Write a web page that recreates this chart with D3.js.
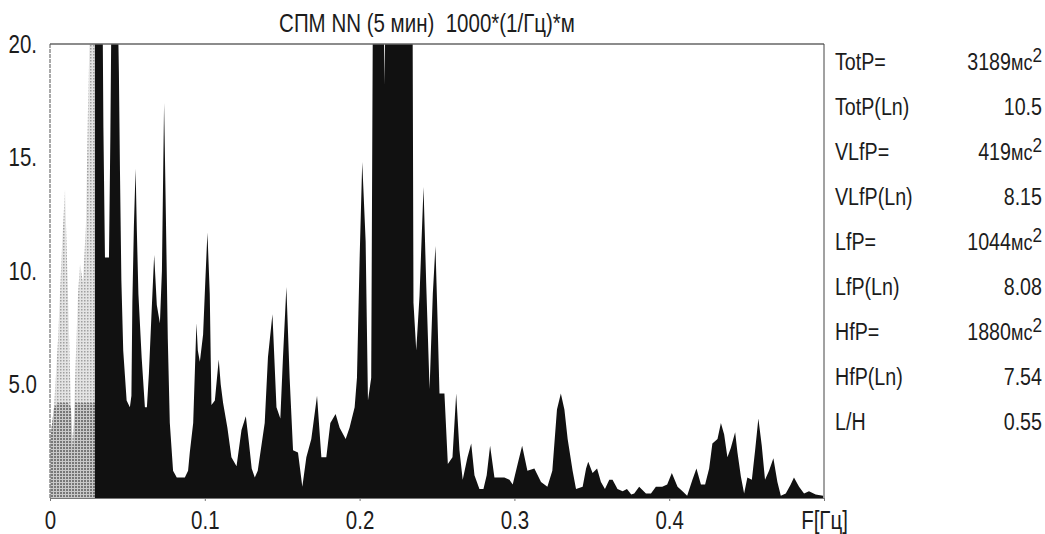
<!DOCTYPE html>
<html>
<head>
<meta charset="utf-8">
<script src="https://cdn.jsdelivr.net/npm/d3@7"></script>
<style>
body { margin: 0; background: #fff; }
text { font-family: "Liberation Sans", Arial, sans-serif; fill: #1c1c1c; }
</style>
</head>
<body>
<div id="chart"></div>
<script>
// спектр VLF (серая часть)
const vlfFreq = [0, 0.0026, 0.0052, 0.0077, 0.0097, 0.0116, 0.0135, 0.0148, 0.0161, 0.0181,
    0.0194, 0.0213, 0.0232, 0.0245, 0.0258, 0.029];
const vlfPower = [2.5, 4, 7, 11, 13.6, 9, 4, 2.1, 5, 9,
    10.3, 9.5, 12, 17, 21, 24];

// спектр LF + HF (чёрная часть)
const specFreq = [0.0290, 0.0335, 0.0345, 0.0355, 0.0381, 0.0390, 0.0400, 0.0432, 0.0445, 0.0452,
    0.0461, 0.0473, 0.0495, 0.0516, 0.0526, 0.0532, 0.0542, 0.0553, 0.0561, 0.0571,
    0.0592, 0.0613, 0.0626, 0.0639, 0.0655, 0.0673, 0.0690, 0.0710, 0.0723, 0.0737,
    0.0745, 0.0753, 0.0761, 0.0774, 0.0795, 0.0819, 0.0871, 0.0892, 0.0903, 0.0925,
    0.0946, 0.0955, 0.0968, 0.0989, 0.1003, 0.1017, 0.1032, 0.1043, 0.1065, 0.1090,
    0.1103, 0.1118, 0.1146, 0.1172, 0.1205, 0.1237, 0.1265, 0.1284, 0.1303, 0.1323,
    0.1342, 0.1387, 0.1408, 0.1437, 0.1463, 0.1488, 0.1505, 0.1527, 0.1548, 0.1570,
    0.1602, 0.1630, 0.1656, 0.1688, 0.1725, 0.1753, 0.1785, 0.1811, 0.1845, 0.1871,
    0.1910, 0.1935, 0.1968, 0.1983, 0.2000, 0.2017, 0.2039, 0.2054, 0.2075, 0.2086,
    0.2155, 0.2161, 0.2168, 0.2342, 0.2348, 0.2366, 0.2387, 0.2413, 0.2430, 0.2452,
    0.2473, 0.2490, 0.2503, 0.2516, 0.2548, 0.2570, 0.2600, 0.2624, 0.2645, 0.2666,
    0.2697, 0.2721, 0.2742, 0.2774, 0.2800, 0.2821, 0.2843, 0.2871, 0.2935, 0.2968,
    0.2989, 0.3021, 0.3050, 0.3084, 0.3129, 0.3172, 0.3213, 0.3245, 0.3275, 0.3300,
    0.3323, 0.3344, 0.3376, 0.3398, 0.3441, 0.3463, 0.3477, 0.3505, 0.3534, 0.3559,
    0.3585, 0.3613, 0.3634, 0.3666, 0.3699, 0.3727, 0.3755, 0.3774, 0.3806, 0.3850,
    0.3882, 0.3914, 0.3955, 0.3987, 0.4017, 0.4054, 0.4086, 0.4116, 0.4150, 0.4176,
    0.4205, 0.4232, 0.4258, 0.4279, 0.4312, 0.4334, 0.4355, 0.4376, 0.4398, 0.4426,
    0.4441, 0.4463, 0.4484, 0.4505, 0.4534, 0.4555, 0.4576, 0.4598, 0.4619, 0.4645,
    0.4673, 0.4699, 0.4721, 0.4753, 0.4785, 0.4806, 0.4839, 0.4871, 0.4903, 0.4946,
    0.4994];
const specPower = [26, 26, 16.3, 10.6, 10.6, 16, 24, 24, 18.8, 14.4,
    9.6, 6.5, 4.3, 4.0, 4.5, 8.6, 12, 14.5, 11.8, 9,
    6.2, 4.0, 4.0, 5.5, 8, 10.7, 8.5, 7.7, 10, 17.4,
    14, 10.5, 7, 3.3, 1.2, 0.9, 0.9, 1.2, 2.0, 3.3,
    7.7, 6.5, 6.0, 7.2, 9.5, 11.7, 9.0, 4.1, 4.3, 6.1,
    5.0, 4.2, 3.1, 1.8, 1.4, 3.0, 3.6, 2.5, 1.3, 0.9,
    1.2, 3.3, 6.2, 8.1, 4.0, 3.5, 6.2, 9.3, 5.3, 2.1,
    2.0, 0.5, 1.8, 2.6, 4.5, 1.8, 1.8, 3.3, 3.7, 3.1,
    2.6, 3.1, 4.0, 5.3, 10.5, 14.8, 11.3, 4.3, 5.3, 22,
    22, 18.2, 22, 22, 8.6, 6.5, 8.9, 13.7, 9.5, 4.8,
    9, 11.1, 8.0, 4.6, 4.6, 1.5, 1.8, 4.6, 2.1, 0.8,
    1.8, 2.4, 1.0, 0.4, 0.4, 1.0, 2.3, 0.9, 0.9, 0.8,
    0.6, 1.5, 2.3, 1.2, 1.3, 0.7, 0.5, 1.2, 3.9, 4.6,
    3.9, 2.6, 1.2, 0.4, 0.5, 1.3, 1.6, 1.1, 1.3, 0.7,
    0.4, 0.8, 0.8, 0.4, 0.3, 0.4, 0.15, 0.2, 0.5, 0.2,
    0.2, 0.5, 0.5, 0.6, 1.1, 0.5, 0.3, 0.1, 0.8, 1.3,
    0.6, 0.6, 1.3, 2.4, 2.6, 3.3, 2.8, 1.8, 2.2, 2.9,
    2.0, 0.95, 0.2, 0.9, 0.8, 2.1, 3.5, 2.3, 0.8, 1.2,
    1.75, 0.7, 0.1, 0.2, 0.6, 0.9, 0.5, 0.2, 0.3, 0.15,
    0.1];

const xTicks = [0, 0.1, 0.2, 0.3, 0.4, 0.5];
const xTickLabels = ["0", "0.1", "0.2", "0.3", "0.4", "F[Гц]"];
const yTicks = [5, 10, 15, 20];
const yTickLabels = ["5.0", "10.", "15.", "20."];

const statNames = ["TotP=", "TotP(Ln)", "VLfP=", "VLfP(Ln)", "LfP=", "LfP(Ln)", "HfP=", "HfP(Ln)", "L/H"];
const statValues = ["3189", "10.5", "419", "8.15", "1044", "8.08", "1880", "7.54", "0.55"];
const statHasUnit = [true, false, true, false, true, false, true, false, false];

const width = 1045;
const height = 534;
const margin = { top: 44, right: 221, bottom: 36, left: 50 };
const narrow = 0.82; // узкий шрифт, как Arial Narrow

const svg = d3.select("#chart")
    .append("svg")
    .attr("width", width)
    .attr("height", height);

svg.append("rect").attr("width", width).attr("height", height).attr("fill", "#fff");

const x = d3.scaleLinear()
    .domain([0, 0.5])
    .range([margin.left, width - margin.right]);

const y = d3.scaleLinear()
    .domain([0, 20])
    .range([height - margin.bottom, margin.top]);

// точечная штриховка для VLF
const defs = svg.append("defs");
const pat = defs.append("pattern")
    .attr("id", "dots")
    .attr("width", 3).attr("height", 3)
    .attr("patternUnits", "userSpaceOnUse");
pat.append("rect").attr("width", 3).attr("height", 3).attr("fill", "#e4e4e4");
pat.append("rect").attr("width", 1.5).attr("height", 1.5).attr("fill", "#a0a0a0");

const pat2 = defs.append("pattern")
    .attr("id", "dots2")
    .attr("width", 3).attr("height", 3)
    .attr("patternUnits", "userSpaceOnUse");
pat2.append("rect").attr("width", 3).attr("height", 3).attr("fill", "#c8c8c8");
pat2.append("rect").attr("width", 2).attr("height", 2).attr("fill", "#777");

defs.append("clipPath").attr("id", "plotClip")
    .append("rect")
    .attr("x", x(0)).attr("y", y(20))
    .attr("width", x(0.5) - x(0)).attr("height", y(0) - y(20));

const vlf = vlfFreq.map((f, i) => ({ f, p: vlfPower[i] }));
const spec = specFreq.map((f, i) => ({ f, p: specPower[i] }));

const area = d3.area()
    .x(d => x(d.f))
    .y0(y(0))
    .y1(d => y(d.p));

const plot = svg.append("g").attr("clip-path", "url(#plotClip)");

plot.append("path").datum(vlf).attr("d", area).attr("fill", "url(#dots)");
plot.append("path").datum(vlf.map(d => ({ f: d.f, p: Math.min(d.p, 4.2) })))
    .attr("d", area).attr("fill", "url(#dots2)");
plot.append("path").datum(spec).attr("d", area).attr("fill", "#111");

// рамка
svg.append("line")
    .attr("x1", x(0)).attr("x2", x(0.5))
    .attr("y1", y(20)).attr("y2", y(20))
    .attr("stroke", "#666").attr("stroke-width", 1.5);
svg.append("line")
    .attr("x1", x(0)).attr("x2", x(0))
    .attr("y1", y(20)).attr("y2", y(0))
    .attr("stroke", "#555").attr("stroke-width", 1)
    .attr("stroke-dasharray", "4,1");
svg.append("line")
    .attr("x1", x(0.5)).attr("x2", x(0.5))
    .attr("y1", y(20)).attr("y2", y(0))
    .attr("stroke", "#444").attr("stroke-width", 1);

// оси
const xAxis = svg.append("g")
    .attr("transform", `translate(0,${y(0)})`)
    .call(d3.axisBottom(x).tickValues(xTicks).tickFormat((d, i) => xTickLabels[i]).tickSize(3).tickSizeOuter(0));
xAxis.select(".domain").attr("stroke", "#777");
xAxis.selectAll(".tick line").attr("stroke", "#777");
xAxis.selectAll(".tick text")
    .attr("y", 0).attr("dy", null)
    .attr("transform", `translate(0,31) scale(${narrow},1)`)
    .style("font-size", "25px");

const yAxis = svg.append("g")
    .attr("transform", `translate(${x(0)},0)`)
    .call(d3.axisLeft(y).tickValues(yTicks).tickFormat((d, i) => yTickLabels[i]).tickSize(0).tickPadding(0));
yAxis.select(".domain").remove();
yAxis.selectAll(".tick text")
    .attr("x", 0)
    .attr("transform", `translate(-13,0) scale(${narrow},1)`)
    .style("font-size", "25px");

// заголовок
svg.append("text")
    .attr("transform", `translate(427,32) scale(${narrow},1)`)
    .attr("text-anchor", "middle")
    .style("font-size", "25px")
    .style("white-space", "pre")
    .text("СПМ NN (5 мин)  1000*(1/Гц)*м");

// таблица справа
const stats = svg.append("g");
statNames.forEach((name, i) => {
    const by = 70 + i * 45;
    stats.append("text")
        .attr("transform", `translate(835,${by}) scale(${narrow},1)`)
        .style("font-size", "24px")
        .text(name);
    const t = stats.append("text")
        .attr("transform", `translate(1042,${by}) scale(${narrow},1)`)
        .attr("text-anchor", "end")
        .style("font-size", "24px");
    t.append("tspan").text(statValues[i]);
    if (statHasUnit[i]) {
        t.append("tspan").style("font-size", "22px").text("мс");
        t.append("tspan").attr("dy", -8).style("font-size", "21px").text("2");
    }
});
</script>
</body>
</html>
